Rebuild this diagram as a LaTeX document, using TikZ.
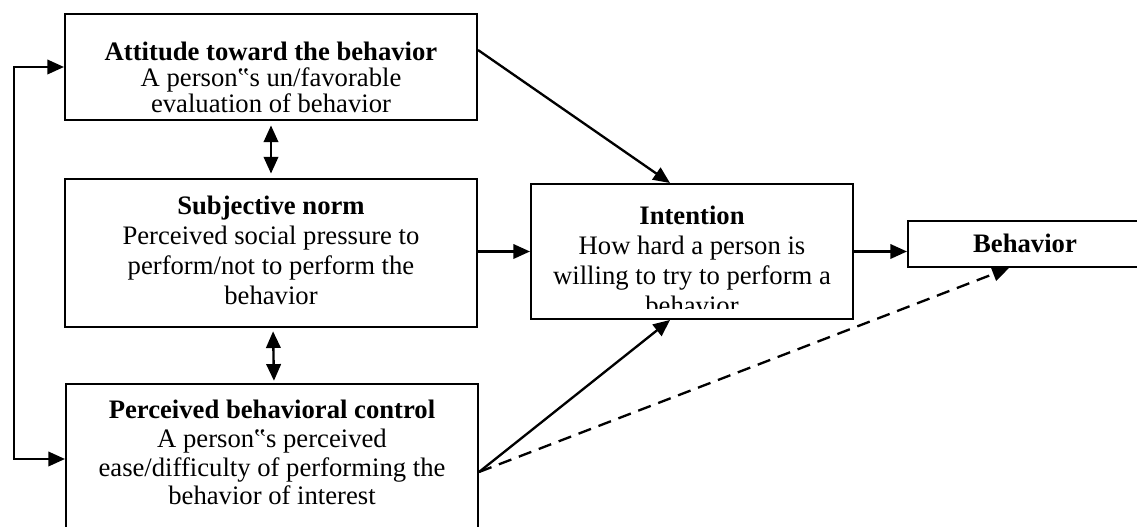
\documentclass[tikz,border=0pt]{standalone}
\usepackage{fontspec}
\setmainfont{Liberation Serif}
\usetikzlibrary{arrows.meta}

\begin{document}
\begin{tikzpicture}[x=0.45pt, y=-0.45pt,
        box/.style = {draw, line width=0.9pt, inner sep=0pt},
        txt/.style = {align=center, inner sep=0pt, anchor=base, font=\fontsize{12}{13.5}\selectfont},
        arr/.style = {line width=1.05pt, -{Triangle[length=7.5pt, width=6.5pt]}},
        dbl/.style = {line width=1.05pt, {Triangle[length=7.5pt, width=6.5pt]}-{Triangle[length=7.5pt, width=6.5pt]}}]
        \useasboundingbox (0,0) rectangle (1137,527);
        \clip (0,0) rectangle (1137,527);

        \node[box, minimum width=185.4pt, minimum height=47.7pt] (att) at (271,67) {};
        \node[box, minimum width=185.4pt, minimum height=66.6pt] (sn) at (271,253) {};
        \node[box, minimum width=185.4pt, minimum height=79.2pt] (pbc) at (272,472) {};
        \node[box, minimum width=144.9pt, minimum height=60.75pt] (int) at (692,251.5) {};
        \node[box, minimum width=105.3pt, minimum height=20.7pt] (beh) at (1025,244) {};

        \node[txt, font=\fontsize{12}{11.7}\selectfont] (att-txt) at (271,113)
            {\textbf{Attitude toward the behavior}\\A person‟s un/favorable\\evaluation of behavior};
        \node[txt] (sn-txt) at (271,305)
            {\textbf{Subjective norm}\\Perceived social pressure to\\perform/not to perform the\\behavior};
        \node[txt, font=\fontsize{12}{13}\selectfont] (pbc-txt) at (272,505)
            {\textbf{Perceived behavioral control}\\A person‟s perceived\\ease/difficulty of performing the\\behavior of interest};
        \begin{scope}
            \clip ([yshift=4.95pt]int.south west) rectangle (int.north east);
            \node[txt] (int-txt) at (692,315)
                {\textbf{Intention}\\How hard a person is\\willing to try to perform a\\behavior};
        \end{scope}
        \node[txt] (beh-txt) at (1025,253) {\textbf{Behavior}};

        \coordinate (loop) at (14,0);
        \coordinate (pbc-in) at ([yshift=5.85pt]pbc.west);

        \draw[dbl] (att.west) -- (att.west -| loop) -- (loop |- pbc-in) -- (pbc-in);
        \draw[dbl, shorten <=2pt, shorten >=2pt] (att.south) -- (sn.north);
        \draw[dbl, shorten <=1.5pt, shorten >=1pt] ([xshift=0.9pt]sn.south) -- ([xshift=0.9pt]pbc.north);
        \draw[arr] ([yshift=7.65pt]att.east) -- ([xshift=-9.9pt]int.north);
        \draw[arr] (sn.east |- int.west) -- (int.west);
        \draw[arr] (pbc.east) -- ([xshift=-9.9pt]int.south);
        \draw[arr] (int.east) -- (int.east -| beh.west);
        \draw[arr, dashed, dash pattern=on 6pt off 3.6pt] (pbc.east) -- ([xshift=-7.2pt]beh.south);
    \end{tikzpicture}
\end{document}
